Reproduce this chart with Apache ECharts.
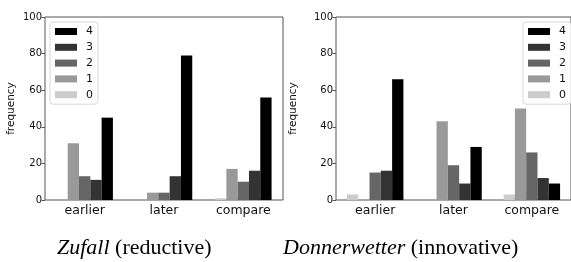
<!DOCTYPE html>
<html>
<head>
<meta charset="utf-8">
<script src="https://cdn.jsdelivr.net/npm/echarts@6/dist/echarts.min.js"></script>
<style>
  html, body { margin: 0; padding: 0; background: #fff; }
  #chart { width: 571px; height: 262px; }
</style>
</head>
<body>
<div id="chart"></div>
<script>
// categories and levels
var categories = ['earlier', 'later', 'compare'];
var levels = ['0', '1', '2', '3', '4'];
var levelColors = ['#cccccc', '#999999', '#666666', '#333333', '#000000'];
var yTicks = [0, 20, 40, 60, 80, 100];

// Zufall (reductive): one array per level, values for earlier / later / compare
var zufall0 = [0, 0, 1];
var zufall1 = [31, 4, 17];
var zufall2 = [13, 4, 10];
var zufall3 = [11, 13, 16];
var zufall4 = [45, 79, 56];

// Donnerwetter (innovative)
var donner0 = [3, 0, 3];
var donner1 = [0, 43, 50];
var donner2 = [15, 19, 26];
var donner3 = [16, 9, 12];
var donner4 = [66, 29, 9];

var zufallData = [zufall0, zufall1, zufall2, zufall3, zufall4];
var donnerData = [donner0, donner1, donner2, donner3, donner4];

var tickFont = 'DejaVu Sans';
var spineColor = '#555';

var myChart = echarts.init(document.getElementById('chart'));

function makeX(gridIndex) {
    return {
        type: 'category',
        gridIndex: gridIndex,
        data: categories,
        axisLine: { show: false },
        axisTick: { show: false },
        axisLabel: { fontFamily: tickFont, fontSize: 12.5, color: '#111', margin: 4 }
    };
}

function makeY(gridIndex, nameGap) {
    return {
        type: 'value',
        gridIndex: gridIndex,
        min: yTicks[0],
        max: yTicks[yTicks.length - 1],
        interval: yTicks[1] - yTicks[0],
        name: 'frequency',
        nameLocation: 'middle',
        nameGap: nameGap,
        nameTextStyle: { fontFamily: tickFont, fontSize: 10.5, color: '#111' },
        splitLine: { show: false },
        axisLine: { show: false },
        axisTick: { show: true, inside: false, length: 3.5, lineStyle: { color: spineColor } },
        axisLabel: { fontFamily: tickFont, fontSize: 10, color: '#111', margin: 3 }
    };
}

function makeSeries(dataSets, axisIndex) {
    var out = [];
    levels.forEach(function (lv, i) {
        out.push({
            name: lv,
            type: 'bar',
            xAxisIndex: axisIndex,
            yAxisIndex: axisIndex,
            barWidth: 11.3,
            barGap: '0%',
            itemStyle: { color: levelColors[i] },
            emphasis: { disabled: true },
            data: dataSets[i]
        });
    });
    return out;
}

function makeLegend(pos) {
    var l = {
        orient: 'vertical',
        top: 22,
        data: levels.slice().reverse(),
        icon: 'rect',
        itemWidth: 22,
        itemHeight: 7,
        itemGap: 4.8,
        padding: [4, 5, 4, 5],
        borderColor: '#d8d8d8',
        borderWidth: 1,
        borderRadius: 3,
        backgroundColor: '#fff',
        textStyle: { fontFamily: tickFont, fontSize: 11, color: '#111', padding: [0, 0, 0, 4] }
    };
    return Object.assign(l, pos);
}

var titleStyle = {
    fontFamily: 'Liberation Serif',
    fontSize: 22,
    fontWeight: 'normal',
    color: '#000',
    rich: { i: { fontFamily: 'Liberation Serif', fontSize: 22, fontStyle: 'italic', color: '#000' } }
};

var option = {
    animation: false,
    backgroundColor: '#fff',
    color: levelColors,
    title: [{
        text: '{i|Zufall} (reductive)',
        left: 57,
        top: 237,
        padding: 0,
        textStyle: titleStyle
    }, {
        text: '{i|Donnerwetter} (innovative)',
        left: 283,
        top: 237,
        padding: 0,
        textStyle: titleStyle
    }],
    legend: [
        makeLegend({ left: 50 }),
        makeLegend({ left: 523 })
    ],
    grid: [{
        left: 45, top: 17, width: 238, height: 183,
        show: true, borderColor: spineColor, borderWidth: 1, backgroundColor: 'transparent'
    }, {
        left: 336, top: 17, width: 239, height: 183,
        show: true, borderColor: spineColor, borderWidth: 1, backgroundColor: 'transparent'
    }],
    xAxis: [makeX(0), makeX(1)],
    yAxis: [makeY(0, 28), makeY(1, 37)],
    series: makeSeries(zufallData, 0).concat(makeSeries(donnerData, 1))
};

myChart.setOption(option);
window.addEventListener('resize', function () {
    if (myChart) {
        myChart.resize();
    }
});
</script>
</body>
</html>
